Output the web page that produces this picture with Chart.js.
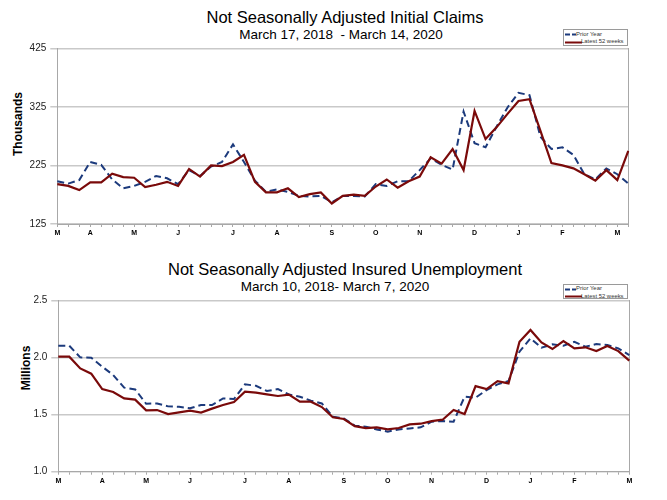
<!DOCTYPE html>
<html>
<head>
<meta charset="utf-8">
<script src="https://cdn.jsdelivr.net/npm/chart.js@4.4.1/dist/chart.umd.min.js"></script>
<style>
  html, body { margin: 0; padding: 0; background: #fff; overflow: hidden; }
  body { width: 667px; height: 500px; position: relative; font-family: 'Liberation Sans', Arial, sans-serif; color: #000; }
  canvas { position: absolute; left: 0; }
  .t { position: absolute; width: 400px; text-align: center; line-height: 1; white-space: pre; }
  .main { font-size: 16.5px; }
  .sub { font-size: 13.5px; }
  .ytitle { position: absolute; font-weight: bold; font-size: 12px; line-height: 1; white-space: nowrap; transform: translate(-50%, -50%) rotate(-90deg); }
  .legend { position: absolute; left: 563px; width: 65px; border: 1px solid #9a9a9a; background: #fff; font-size: 5.9px; color: #333; box-sizing: border-box; }
  .row { position: relative; height: 7.5px; line-height: 7.5px; white-space: nowrap; }
  .row svg { position: absolute; left: 1px; top: 2.5px; }
  .row span { position: absolute; top: 0; }
</style>
</head>
<body>
<div class="t main" style="left:145px; top:9px;">Not Seasonally Adjusted Initial Claims</div>
<div class="t sub" style="left:141px; top:27.5px;">March 17, 2018  - March 14, 2020</div>
<div class="ytitle" style="left:17.7px; top:124px;">Thousands</div>
<div class="legend" style="top:29px; height:16.5px; padding-top:0.5px;">
  <div class="row"><svg width="12" height="3"><line x1="0" y1="1.5" x2="11" y2="1.5" stroke="#1c3a7c" stroke-width="2" stroke-dasharray="5,2"/></svg><span style="left:12px;">Prior Year</span></div>
  <div class="row"><svg width="17" height="3"><line x1="0" y1="1.5" x2="17" y2="1.5" stroke="#7a0a0a" stroke-width="2"/></svg><span style="left:17px;">Latest 52 weeks</span></div>
</div>
<canvas id="claims" width="667" height="252" style="top:0;"></canvas>

<div class="t main" style="left:145px; top:261.3px;">Not Seasonally Adjusted Insured Unemployment</div>
<div class="t sub" style="left:135px; top:279.9px;">March 10, 2018- March 7, 2020</div>
<div class="ytitle" style="left:26.2px; top:368px;">Millions</div>
<div class="legend" style="top:284.3px; height:15px; padding-top:0px;">
  <div class="row"><svg width="12" height="3"><line x1="0" y1="1.5" x2="11" y2="1.5" stroke="#1c3a7c" stroke-width="2" stroke-dasharray="5,2"/></svg><span style="left:12px;">Prior Year</span></div>
  <div class="row"><svg width="17" height="3"><line x1="0" y1="1.5" x2="17" y2="1.5" stroke="#7a0a0a" stroke-width="2"/></svg><span style="left:17px;">Latest 52 weeks</span></div>
</div>
<canvas id="insured" width="667" height="248" style="top:252px;"></canvas>

<script>
const FONT = "'Liberation Sans', Arial, sans-serif";
const RED = '#7a0a0a';
const BLUE = '#1c3a7c';
const GRID = '#c9c9c9';
const AXIS = '#a8a8a8';

// weekly tick labels, Mar 17 2018 .. Mar 14 2020
const claimsWeeks = [
  'M', '', '', 'A', '', '', '', 'M', '', '', '', 'J', '', '', '', '', 'J', '', '', '', 'A', '', '', '', '', 'S',
  '', '', '', 'O', '', '', '', 'N', '', '', '', '', 'D', '', '', '', 'J', '', '', '', 'F', '', '', '', '', 'M', '',
];
const claimsLatest = [
  193, 190, 183, 196, 196, 211, 205, 204, 188, 192, 197, 190, 219, 206, 225, 224, 231, 243, 197, 179, 179, 186, 171, 176, 179, 160,
  173, 175, 173, 189, 201, 187, 198, 206, 239, 228, 253, 217, 318, 270, 290, 313, 335, 338, 284, 229, 225, 220, 210, 199, 217, 200, 250,
];
const claimsPrior = [
  198, 194, 200, 231, 226, 201, 186, 190, 197, 207, 203, 193, 217, 207, 223, 231, 261, 231, 199, 180, 184, 180, 173, 172, 173, 162,
  173, 173, 172, 193, 190, 198, 198, 217, 237, 226, 218, 317, 263, 256, 291, 324, 349, 345, 274, 253, 256, 243, 210, 201, 220, 210, 194,
];

// weekly tick labels, Mar 10 2018 .. Mar 7 2020
const insuredWeeks = [
  'M', '', '', '', 'A', '', '', '', 'M', '', '', '', 'J', '', '', '', '', 'J', '', '', '', 'A', '', '', '', '', 'S',
  '', '', '', 'O', '', '', '', 'N', '', '', '', '', 'D', '', '', '', 'J', '', '', '', 'F', '', '', '', '', 'M',
];
const insuredLatest = [
  2.009, 2.009, 1.906, 1.86, 1.725, 1.699, 1.643, 1.632, 1.538, 1.541, 1.506, 1.52, 1.535, 1.518, 1.553, 1.585, 1.611, 1.702,
  1.693, 1.678, 1.664, 1.676, 1.614, 1.614, 1.567, 1.477, 1.462, 1.40, 1.383, 1.389, 1.371, 1.383, 1.415, 1.421, 1.444, 1.456,
  1.541, 1.506, 1.751, 1.725, 1.795, 1.775, 2.14, 2.243, 2.134, 2.076, 2.146, 2.082, 2.091, 2.058, 2.102, 2.058, 1.974,
];
const insuredPrior = [
  2.105, 2.105, 2.003, 2.0, 1.921, 1.848, 1.737, 1.722, 1.596, 1.599, 1.573, 1.57, 1.556, 1.585, 1.585, 1.643, 1.637, 1.766,
  1.754, 1.708, 1.725, 1.678, 1.658, 1.623, 1.599, 1.482, 1.468, 1.404, 1.395, 1.371, 1.351, 1.371, 1.38, 1.389, 1.439, 1.444,
  1.439, 1.658, 1.649, 1.716, 1.766, 1.795, 2.053, 2.17, 2.088, 2.117, 2.105, 2.14, 2.096, 2.12, 2.111, 2.082, 2.023,
];

function makeChart(id, labels, latest, prior, yScale, pad) {
  return new Chart(document.getElementById(id), {
    type: 'line',
    data: {
      labels,
      datasets: [
        { label: 'Latest 52 weeks', data: latest, borderColor: RED, borderWidth: 2.2, pointRadius: 0, tension: 0, fill: false },
        { label: 'Prior Year', data: prior, borderColor: BLUE, borderWidth: 2, borderDash: [7, 4], pointRadius: 0, tension: 0, fill: false },
      ],
    },
    options: {
      responsive: false,
      animation: false,
      events: [],
      layout: { padding: pad },
      plugins: { legend: { display: false }, tooltip: { enabled: false }, title: { display: false } },
      scales: {
        x: {
          grid: { drawOnChartArea: false, color: AXIS, tickLength: 3 },
          border: { color: AXIS, width: 1 },
          ticks: { autoSkip: false, maxRotation: 0, padding: 2, color: '#000', font: { family: FONT, size: 7, weight: 'bold' } },
          afterFit: (s) => { s.height = 14; },
        },
        y: {
          min: yScale.min,
          max: yScale.max,
          ticks: { stepSize: yScale.step, padding: 4, color: '#222', font: { family: FONT, size: 10 }, callback: yScale.fmt },
          grid: { color: GRID, lineWidth: 1.5, tickLength: 7 },
          border: { color: AXIS, width: 1 },
          afterFit: (s) => { s.width = 57.3; },
        },
        y2: {
          position: 'right',
          min: yScale.min,
          max: yScale.max,
          ticks: { display: false },
          grid: { display: false },
          border: { color: AXIS, width: 1 },
          afterFit: (s) => { s.width = 0; },
        },
      },
    },
  });
}

makeChart('claims', claimsWeeks, claimsLatest, claimsPrior,
  { min: 125, max: 425, step: 100, fmt: (v) => String(v) },
  { top: 48.3, right: 38.7, bottom: 14, left: 0 });

makeChart('insured', insuredWeeks, insuredLatest, insuredPrior,
  { min: 1.0, max: 2.5, step: 0.5, fmt: (v) => v.toFixed(1) },
  { top: 48.7, right: 37.7, bottom: 14.3, left: 1 });
</script>
</body>
</html>
